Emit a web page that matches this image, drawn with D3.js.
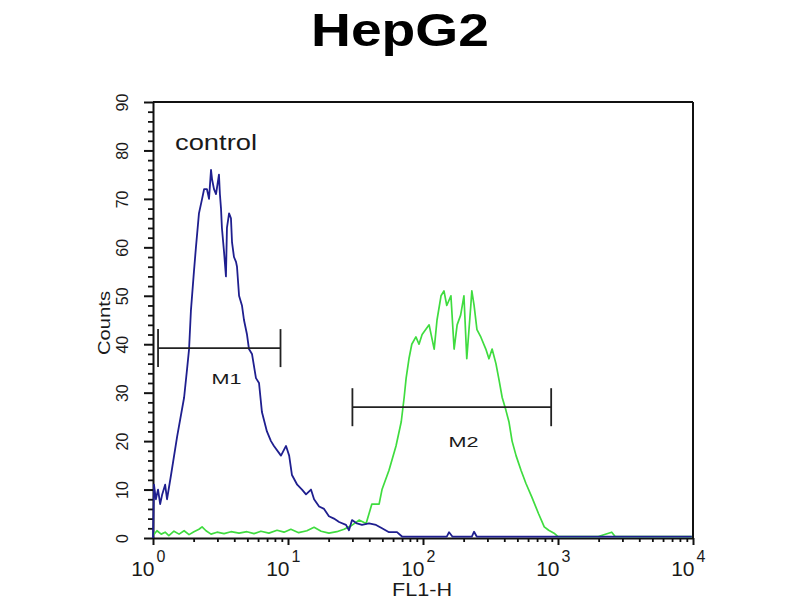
<!DOCTYPE html>
<html>
<head>
<meta charset="utf-8">
<script src="https://cdn.jsdelivr.net/npm/d3@7"></script>
<style>
  html, body { margin: 0; padding: 0; background: #fff; }
  svg { display: block; }
  text { font-family: "Liberation Sans", Arial, sans-serif; fill: #1a1a1a; }
</style>
</head>
<body>
<svg id="chart" width="800" height="600"></svg>
<script>
// ---- data ----
const chartTitle = "HepG2";
const xLabel = "FL1-H";
const yLabel = "Counts";
const sampleLabel = "control";

const yTicks = [0, 10, 20, 30, 40, 50, 60, 70, 80, 90];
const xTicks = [1, 10, 100, 1000, 10000];
const xTickExponents = ["0", "1", "2", "3", "4"];

// control (blue) histogram: FL1-H value, counts
const controlX = [1.0, 1.017, 1.05, 1.09, 1.13, 1.17, 1.23, 1.27, 1.36, 1.51, 1.70, 1.79, 1.85, 1.91, 2.01, 2.08, 2.19, 2.31, 2.39, 2.51, 2.60, 2.69, 2.74, 2.83, 2.93, 3.08, 3.13, 3.19, 3.24, 3.36, 3.47, 3.53, 3.66, 3.78, 3.85, 3.98, 4.12, 4.19, 4.34, 4.56, 4.72, 4.97, 5.14, 5.41, 5.79, 6.10, 6.41, 6.98, 7.48, 7.87, 8.87, 9.67, 10.2, 10.7, 11.7, 12.7, 13.6, 14.8, 15.6, 17.0, 18.5, 20.1, 21.9, 23.9, 26.9, 28.3, 29.8, 32.4, 35.3, 39.8, 44.9, 49.7, 56.0, 64.2, 69.9, 93.4, 150, 156, 165, 230, 239, 250, 815, 9800];
const controlY = [0, 11, 8, 10, 7, 9, 11, 8, 13, 21, 29, 35, 39, 47, 55, 60, 67, 70, 72, 72, 70, 76, 74, 72, 71, 75, 71, 68, 64, 59, 54, 64, 67, 66, 61, 58, 57, 56, 50, 48, 45, 42, 39, 38, 33, 32, 26, 22, 20, 19, 17, 19, 17, 13, 11, 10, 9, 10, 8, 6.5, 6, 4.5, 4, 3.3, 2.7, 1.6, 3.7, 3, 2.7, 3, 2.7, 2, 1.2, 1.2, 0.3, 0.3, 0.3, 1.2, 0.3, 0.3, 1.3, 0.3, 0.3, 0.3];

// HepG2 (green) histogram: FL1-H value, counts
const sampleX = [1.0, 1.07, 1.15, 1.23, 1.31, 1.43, 1.56, 1.70, 1.85, 2.01, 2.19, 2.31, 2.47, 2.69, 2.98, 3.36, 3.78, 4.34, 4.97, 5.60, 6.30, 7.22, 8.30, 9.34, 10.5, 12.0, 13.8, 15.6, 17.6, 20.1, 23.0, 26.0, 29.3, 33.6, 37.9, 41.8, 47.3, 49.7, 56.0, 63.1, 69.0, 72.5, 75.0, 78.7, 82.6, 88.6, 93.4, 98.5, 111, 121, 127, 136, 143, 150, 161, 170, 179, 190, 201, 211, 226, 230, 239, 251, 268, 292, 308, 325, 347, 366, 386, 411, 433, 457, 489, 532, 578, 639, 718, 791, 853, 935, 1000, 1990, 2500, 2650, 9800];
const sampleY = [0.5, 1.5, 0.8, 1.2, 0.5, 1.4, 0.8, 1.5, 0.7, 1.3, 1.8, 2.3, 1.5, 0.8, 1.2, 0.9, 1.3, 1.0, 1.3, 0.9, 1.4, 1.0, 1.6, 1.2, 1.8, 1.1, 1.5, 2.2, 1.4, 1.0, 1.3, 1.8, 2.5, 3.7, 3, 7, 7, 10, 14, 19, 24, 29, 33, 37, 40, 41.5, 40, 42, 44, 39, 45, 50, 51, 48, 50, 39, 44, 46, 50, 37, 48, 51, 48, 43, 41.5, 39, 37, 39, 36, 32.6, 29, 26.4, 24, 20, 17, 14, 11.3, 8.5, 5, 2.3, 1.6, 1, 0.3, 0.3, 1.2, 0.3, 0.3];

// marker gates
const gateNames = ["M1", "M2"];
const gateStart = [1.09, 30];
const gateEnd = [8.8, 890];
const gateLevel = [39.2, 27.0];
const gateLabelX = [3.5, 200];
const gateLabelY = [31.8, 18.8];

// ---- layout ----
const svg = d3.select("#chart");
const plotL = 153, plotR = 693, plotT = 102, plotB = 538;

const x = d3.scaleLog().domain([1, 10000]).range([plotL, plotR]);
const y = d3.scaleLinear().domain([0, 90]).range([plotB, plotT]);

// title
svg.append("text")
  .attr("x", 400).attr("y", 46)
  .attr("text-anchor", "middle")
  .attr("textLength", 178).attr("lengthAdjust", "spacingAndGlyphs")
  .style("font-size", "47px").style("font-weight", "bold").style("fill", "#000")
  .text(chartTitle);

// frame (top and right)
svg.append("line").attr("x1", plotL).attr("x2", plotR).attr("y1", plotT).attr("y2", plotT)
  .attr("stroke", "#111").attr("stroke-width", 2);
svg.append("line").attr("x1", plotR).attr("x2", plotR).attr("y1", plotT).attr("y2", plotB)
  .attr("stroke", "#111").attr("stroke-width", 2);

// y minor ticks
const yMinor = d3.range(0, 91, 2).filter(v => v % 10 !== 0);
svg.append("g").attr("transform", `translate(${plotL},0)`)
  .call(d3.axisLeft(y).tickValues(yMinor).tickSize(5).tickSizeOuter(0).tickFormat(""))
  .call(g => g.select(".domain").remove())
  .call(g => g.selectAll("line").attr("stroke", "#111").attr("stroke-width", 1.8));

// y major axis
const yAxisG = svg.append("g").attr("transform", `translate(${plotL},0)`)
  .call(d3.axisLeft(y).tickValues(yTicks).tickSize(9).tickSizeOuter(0));
yAxisG.select(".domain").attr("stroke", "#111").attr("stroke-width", 2);
yAxisG.selectAll(".tick line").attr("stroke", "#111").attr("stroke-width", 2);
yAxisG.selectAll(".tick text")
  .attr("x", 0).attr("y", -25).attr("dy", 0)
  .attr("transform", "rotate(-90)")
  .attr("text-anchor", "middle")
  .style("font-size", "16px").style("font-family", "'Liberation Sans', Arial, sans-serif")
  .attr("fill", "#1a1a1a");

// x minor ticks
const xMinor = [];
[1, 10, 100, 1000].forEach(d => { for (let k = 2; k <= 9; k++) xMinor.push(d * k); });
svg.append("g").attr("transform", `translate(0,${plotB})`)
  .call(d3.axisBottom(x).tickValues(xMinor).tickSize(4).tickSizeOuter(0).tickFormat(""))
  .call(g => g.select(".domain").remove())
  .call(g => g.selectAll("line").attr("stroke", "#111").attr("stroke-width", 1.8));

// x major axis
const xAxisG = svg.append("g").attr("transform", `translate(0,${plotB})`)
  .call(d3.axisBottom(x).tickValues(xTicks).tickSize(7).tickSizeOuter(0).tickFormat(""));
xAxisG.select(".domain").attr("stroke", "#111").attr("stroke-width", 2);
xAxisG.selectAll(".tick line").attr("stroke", "#111").attr("stroke-width", 2);
xAxisG.selectAll(".tick").each(function(d, i) {
  const g = d3.select(this);
  g.select("text").remove();
  g.append("text")
    .attr("x", 1).attr("y", 38)
    .attr("text-anchor", "end")
    .style("font-size", "21px")
    .attr("fill", "#1a1a1a")
    .text("10");
  g.append("text")
    .attr("x", 3).attr("y", 24)
    .attr("text-anchor", "start")
    .style("font-size", "16px")
    .attr("fill", "#1a1a1a")
    .text(xTickExponents[i]);
});

// axis labels
svg.append("text")
  .attr("x", 422).attr("y", 596)
  .attr("text-anchor", "middle")
  .attr("textLength", 60).attr("lengthAdjust", "spacingAndGlyphs")
  .style("font-size", "19px")
  .text(xLabel);

svg.append("text")
  .attr("transform", "translate(110,323) rotate(-90)")
  .attr("text-anchor", "middle")
  .attr("textLength", 64).attr("lengthAdjust", "spacingAndGlyphs")
  .style("font-size", "17px")
  .text(yLabel);

// histograms
const line = d3.line().x(d => x(d[0])).y(d => y(d[1])).curve(d3.curveLinear);

svg.append("path")
  .datum(sampleX.map((v, i) => [v, sampleY[i]]))
  .attr("d", line)
  .attr("fill", "none").attr("stroke", "#3fdc3f").attr("stroke-width", 1.7)
  .attr("stroke-linejoin", "round");

svg.append("path")
  .datum(controlX.map((v, i) => [v, controlY[i]]))
  .attr("d", line)
  .attr("fill", "none").attr("stroke", "#1f1f8f").attr("stroke-width", 1.8)
  .attr("stroke-linejoin", "round");

// sample label
svg.append("text")
  .attr("x", 175).attr("y", 150)
  .attr("textLength", 82).attr("lengthAdjust", "spacingAndGlyphs")
  .style("font-size", "22px").attr("fill", "#333")
  .text(sampleLabel);

// gates
const gates = gateNames.map((n, i) => ({ name: n, x0: gateStart[i], x1: gateEnd[i], lv: gateLevel[i], lx: gateLabelX[i], ly: gateLabelY[i] }));
const gg = svg.append("g");
gates.forEach(gt => {
  gg.append("line").attr("x1", x(gt.x0)).attr("x2", x(gt.x1)).attr("y1", y(gt.lv)).attr("y2", y(gt.lv))
    .attr("stroke", "#222").attr("stroke-width", 1.8);
  [gt.x0, gt.x1].forEach(v => {
    gg.append("line").attr("x1", x(v)).attr("x2", x(v)).attr("y1", y(gt.lv) - 19).attr("y2", y(gt.lv) + 19)
      .attr("stroke", "#222").attr("stroke-width", 1.8);
  });
  gg.append("text")
    .attr("x", x(gt.lx)).attr("y", y(gt.ly))
    .attr("text-anchor", "middle")
    .attr("textLength", 30).attr("lengthAdjust", "spacingAndGlyphs")
    .style("font-size", "15px").attr("fill", "#333")
    .text(gt.name);
});
</script>
</body>
</html>
